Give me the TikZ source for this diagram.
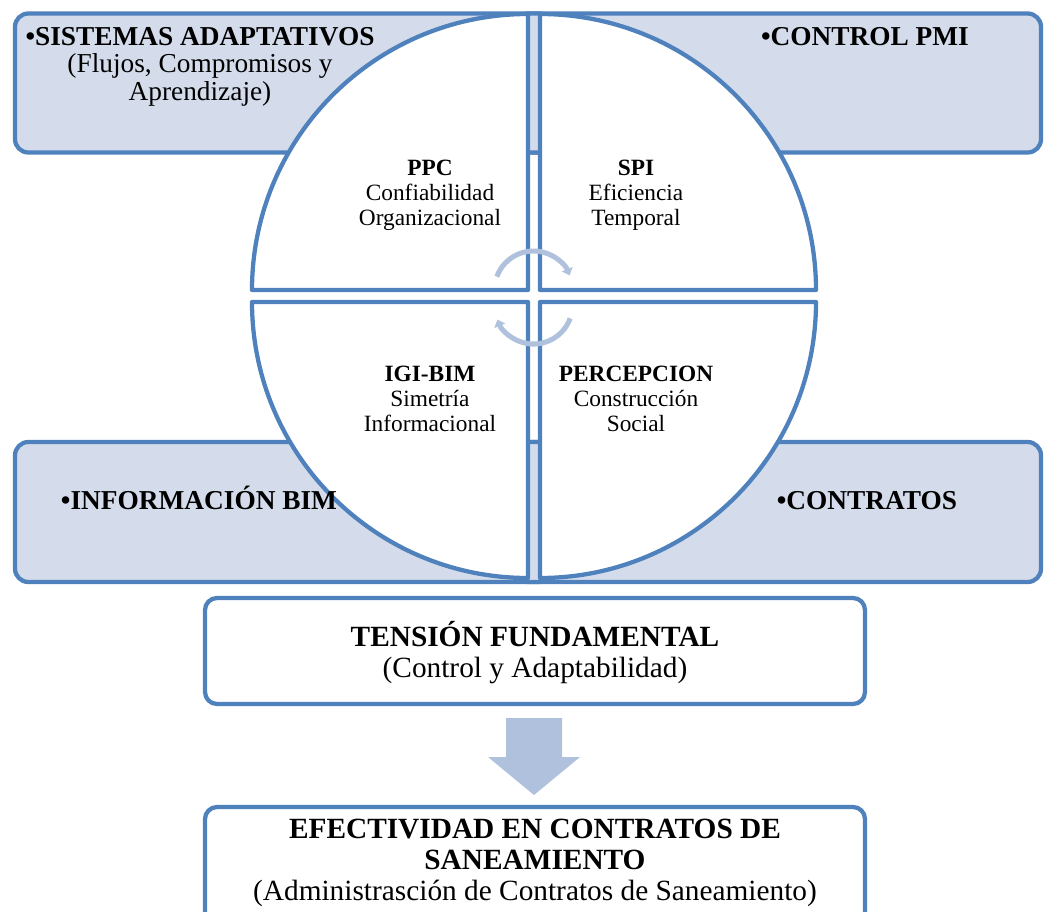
\documentclass[tikz,border=0pt]{standalone}
\usepackage{xcolor}
\usepackage{fontspec}
\setmainfont{Liberation Serif}
\usetikzlibrary{arrows.meta}

\definecolor{frameblue}{RGB}{79,129,189}
\definecolor{cornerfill}{RGB}{212,220,235}
\definecolor{arrowfill}{RGB}{176,193,222}

\begin{document}
\begin{tikzpicture}[x=0.75pt,y=0.75pt,yscale=-1,xscale=1,
  cornerbox/.style={draw=frameblue,fill=cornerfill,line width=3.2pt,rounded corners=10pt},
  quadrant/.style={draw=frameblue,fill=white,line width=3.2pt,line join=round},
  flowbox/.style={draw=frameblue,fill=white,line width=3.2pt,rounded corners=9pt},
  cyclearrow/.style={draw=arrowfill,line width=3.8pt,-{Triangle[length=5pt,width=8.5pt]}},
  cornertxt/.style={anchor=base,inner sep=0.75pt,align=center,font=\fontsize{20.5}{20.6}\selectfont},
  quadtxt/.style={anchor=base,inner sep=0.75pt,align=center,font=\fontsize{17.5}{18.4}\selectfont},
  flowtxt/.style={anchor=base,inner sep=0.75pt,align=center,font=\fontsize{22}{23}\selectfont}]
\useasboundingbox (0,0) rectangle (1044,911);

%Shape: Rounded Rect (corner boxes)
\draw [cornerbox] (15,13.5) rectangle (552,152.5) ;
\draw [cornerbox] (515,13.5) rectangle (1041,152.5) ;
\draw [cornerbox] (15,442) rectangle (552,582) ;
\draw [cornerbox] (515,442) rectangle (1041,582) ;

%Shape: Pie (quadrants)
\draw [quadrant] (528,290) -- (252,290) arc [start angle=180,end angle=270,radius=276] -- cycle ;
\draw [quadrant] (540,290) -- (540,14) arc [start angle=270,end angle=360,radius=276] -- cycle ;
\draw [quadrant] (528,302) -- (252,302) arc [start angle=180,end angle=90,radius=276] -- cycle ;
\draw [quadrant] (540,302) -- (816,302) arc [start angle=0,end angle=90,radius=276] -- cycle ;

%Curve Lines (cycle arrows)
\coordinate (hubtop) at (533.5,290) ;
\coordinate (hubbot) at (533.5,305) ;
\draw [cyclearrow] ([shift={(200:39)}]hubtop) arc [start angle=200,end angle=338,radius=39] ;
\draw [cyclearrow] ([shift={(20:39)}]hubbot) arc [start angle=20,end angle=158,radius=39] ;

%Shape: Rounded Rect (flow boxes)
\draw [flowbox] (205,598) rectangle (865,704) ;
\draw [flowbox] (205,807) rectangle (865,930) ;

%Shape: Down Arrow
\draw [fill=arrowfill,draw=none] (506,718) -- (562,718) -- (562,757) -- (580,757) -- (534,795) -- (488,757) -- (506,757) -- cycle ;

% Text Node
\node [cornertxt] (sis) at (200,100) {\textbf{•SISTEMAS ADAPTATIVOS}\\(Flujos, Compromisos y\\Aprendizaje)};
% Text Node
\node [cornertxt] (pmi) at (865,45) {\textbf{•CONTROL PMI}};
% Text Node
\node [cornertxt] (bim) at (199,509) {\textbf{•INFORMACIÓN BIM}};
% Text Node
\node [cornertxt] (cont) at (867,509) {\textbf{•CONTRATOS}};
% Text Node
\node [quadtxt] (ppc) at (430,225) {\textbf{PPC}\\Confiabilidad\\Organizacional};
% Text Node
\node [quadtxt] (spi) at (636,225) {\textbf{SPI}\\Eficiencia\\Temporal};
% Text Node
\node [quadtxt] (igi) at (430,431) {\textbf{IGI-BIM}\\Simetría\\Informacional};
% Text Node
\node [quadtxt] (perc) at (636,431) {\textbf{PERCEPCION}\\Construcción\\Social};
% Text Node
\node [flowtxt] (tension) at (535,677) {\textbf{TENSIÓN FUNDAMENTAL}\\(Control y Adaptabilidad)};
% Text Node
\node [flowtxt] (efect) at (535,900) {\textbf{EFECTIVIDAD EN CONTRATOS DE}\\\textbf{SANEAMIENTO}\\(Administrasción de Contratos de Saneamiento)};

\end{tikzpicture}
\end{document}
